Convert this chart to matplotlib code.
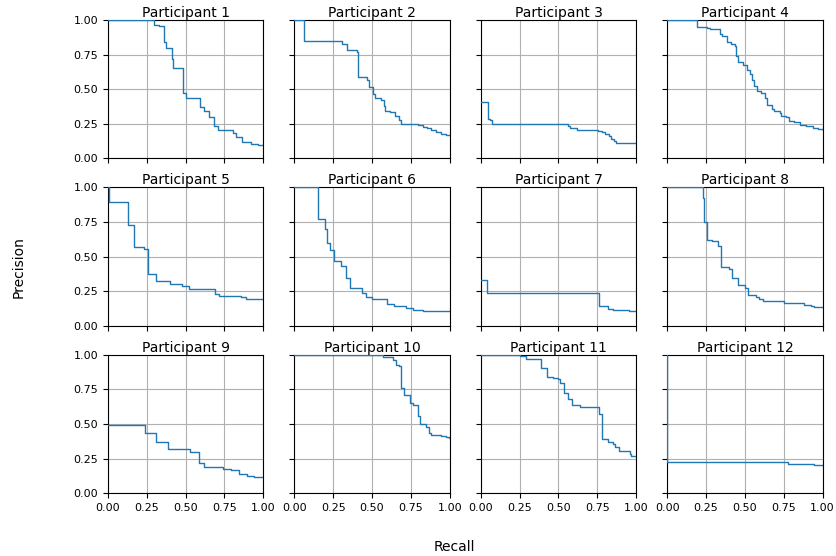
import matplotlib
matplotlib.use("Agg")
import matplotlib.pyplot as plt

titles = [f"Participant {i}" for i in range(1, 13)]

recall_1 = [0.0, 0.295, 0.33, 0.36, 0.375, 0.41, 0.417, 0.486, 0.503, 0.595, 0.62, 0.653, 0.685, 0.71, 0.803, 0.824, 0.863, 0.921, 0.964, 1.0]
precision_1 = [1.0, 0.966, 0.96, 0.84, 0.80, 0.72, 0.653, 0.47, 0.434, 0.37, 0.345, 0.30, 0.236, 0.207, 0.183, 0.152, 0.118, 0.106, 0.099, 0.095]

recall_2 = [0.0, 0.065, 0.305, 0.337, 0.404, 0.408, 0.413, 0.469, 0.48, 0.505, 0.52, 0.559, 0.576, 0.585, 0.619, 0.645, 0.671, 0.684, 0.796, 0.828, 0.856, 0.882, 0.914, 0.942, 0.978, 1.0]
precision_2 = [1.0, 0.85, 0.83, 0.785, 0.766, 0.665, 0.585, 0.564, 0.516, 0.465, 0.436, 0.424, 0.376, 0.345, 0.333, 0.308, 0.28, 0.25, 0.24, 0.227, 0.219, 0.202, 0.19, 0.178, 0.166, 0.166]

recall_3 = [0.0, 0.047, 0.058, 0.071, 0.56, 0.576, 0.619, 0.753, 0.781, 0.802, 0.822, 0.839, 0.856, 0.871, 1.0]
precision_3 = [0.41, 0.287, 0.275, 0.248, 0.236, 0.219, 0.207, 0.2, 0.188, 0.176, 0.159, 0.142, 0.128, 0.111, 0.111]

recall_4 = [0.0, 0.189, 0.254, 0.275, 0.340, 0.350, 0.383, 0.409, 0.437, 0.445, 0.456, 0.490, 0.512, 0.533, 0.548, 0.559, 0.576, 0.606, 0.628, 0.645, 0.677, 0.688, 0.727, 0.735, 0.763, 0.785, 0.817, 0.854, 0.892, 0.935, 0.968, 1.0]
precision_4 = [1.0, 0.947, 0.94, 0.933, 0.90, 0.887, 0.84, 0.83, 0.81, 0.737, 0.694, 0.672, 0.64, 0.61, 0.569, 0.52, 0.49, 0.472, 0.436, 0.383, 0.357, 0.34, 0.328, 0.304, 0.296, 0.272, 0.265, 0.243, 0.231, 0.219, 0.212, 0.207]

recall_5 = [0.0, 0.01, 0.128, 0.167, 0.231, 0.259, 0.31, 0.403, 0.477, 0.52, 0.69, 0.717, 0.857, 0.889, 1.0]
precision_5 = [1.0, 0.898, 0.726, 0.571, 0.554, 0.375, 0.324, 0.305, 0.29, 0.269, 0.232, 0.218, 0.208, 0.196, 0.196]

recall_6 = [0.0, 0.15, 0.2, 0.211, 0.23, 0.258, 0.301, 0.335, 0.357, 0.434, 0.464, 0.499, 0.594, 0.641, 0.72, 0.767, 0.830, 1.0]
precision_6 = [1.0, 0.775, 0.703, 0.597, 0.55, 0.467, 0.432, 0.346, 0.273, 0.237, 0.208, 0.196, 0.16, 0.143, 0.128, 0.116, 0.106, 0.106]

recall_7 = [0.0, 0.043, 0.763, 0.817, 0.849, 0.957, 1.0]
precision_7 = [0.328, 0.239, 0.14, 0.123, 0.114, 0.109, 0.109]

recall_8 = [0.0, 0.228, 0.237, 0.254, 0.29, 0.329, 0.344, 0.398, 0.419, 0.456, 0.499, 0.52, 0.570, 0.591, 0.619, 0.753, 0.882, 0.925, 0.946, 1.0]
precision_8 = [1.0, 0.92, 0.75, 0.623, 0.611, 0.575, 0.425, 0.413, 0.346, 0.292, 0.275, 0.22, 0.208, 0.19, 0.176, 0.167, 0.152, 0.143, 0.135, 0.135]

recall_9 = [0.0, 0.236, 0.31, 0.385, 0.529, 0.589, 0.621, 0.739, 0.792, 0.846, 0.893, 0.942, 1.0]
precision_9 = [0.493, 0.432, 0.372, 0.321, 0.295, 0.215, 0.186, 0.174, 0.164, 0.135, 0.123, 0.114, 0.114]

recall_10 = [0.0, 0.57, 0.634, 0.656, 0.673, 0.688, 0.705, 0.742, 0.763, 0.796, 0.806, 0.849, 0.864, 0.882, 0.942, 0.978, 0.996, 1.0]
precision_10 = [1.0, 0.983, 0.964, 0.928, 0.916, 0.76, 0.71, 0.65, 0.638, 0.558, 0.498, 0.48, 0.432, 0.42, 0.415, 0.408, 0.396, 0.396]

recall_11 = [0.0, 0.254, 0.29, 0.387, 0.426, 0.462, 0.499, 0.512, 0.533, 0.559, 0.585, 0.641, 0.763, 0.778, 0.817, 0.849, 0.864, 0.892, 0.963, 0.968, 1.0]
precision_11 = [1.0, 0.988, 0.971, 0.908, 0.843, 0.836, 0.824, 0.795, 0.722, 0.679, 0.638, 0.62, 0.57, 0.389, 0.372, 0.353, 0.333, 0.304, 0.28, 0.268, 0.268]

recall_12 = [0.0, 0.001, 0.57, 0.774, 0.839, 0.946, 1.0]
precision_12 = [1.0, 0.227, 0.222, 0.213, 0.208, 0.203, 0.196]

recalls = [recall_1, recall_2, recall_3, recall_4, recall_5, recall_6,
           recall_7, recall_8, recall_9, recall_10, recall_11, recall_12]
precisions = [precision_1, precision_2, precision_3, precision_4, precision_5, precision_6,
              precision_7, precision_8, precision_9, precision_10, precision_11, precision_12]

xticks = [0.0, 0.25, 0.5, 0.75, 1.0]
yticks = [0.0, 0.25, 0.5, 0.75, 1.0]

fig, axes = plt.subplots(3, 4, figsize=(8.36, 5.56), dpi=100, sharex=True, sharey=True)
fig.subplots_adjust(left=0.129, right=0.984, top=0.964, bottom=0.113, wspace=0.2, hspace=0.21)

for ax, t, r, p in zip(axes.flat, titles, recalls, precisions):
    ax.plot(r, p, drawstyle="steps-post", color="#1f77b4", linewidth=1.0, zorder=3)
    ax.set_title(t, fontsize=10, pad=2)
    ax.set_xlim(0, 1)
    ax.set_ylim(0, 1)
    ax.set_xticks(xticks)
    ax.set_yticks(yticks)
    ax.grid(True, color="#b0b0b0", linewidth=0.8)
    ax.tick_params(labelsize=8)

fig.text(0.022, 0.52, "Precision", rotation=90, ha="center", va="center", fontsize=10)
fig.text(0.543, 0.016, "Recall", ha="center", va="center", fontsize=10)

fig.savefig("out.png", dpi=100)
